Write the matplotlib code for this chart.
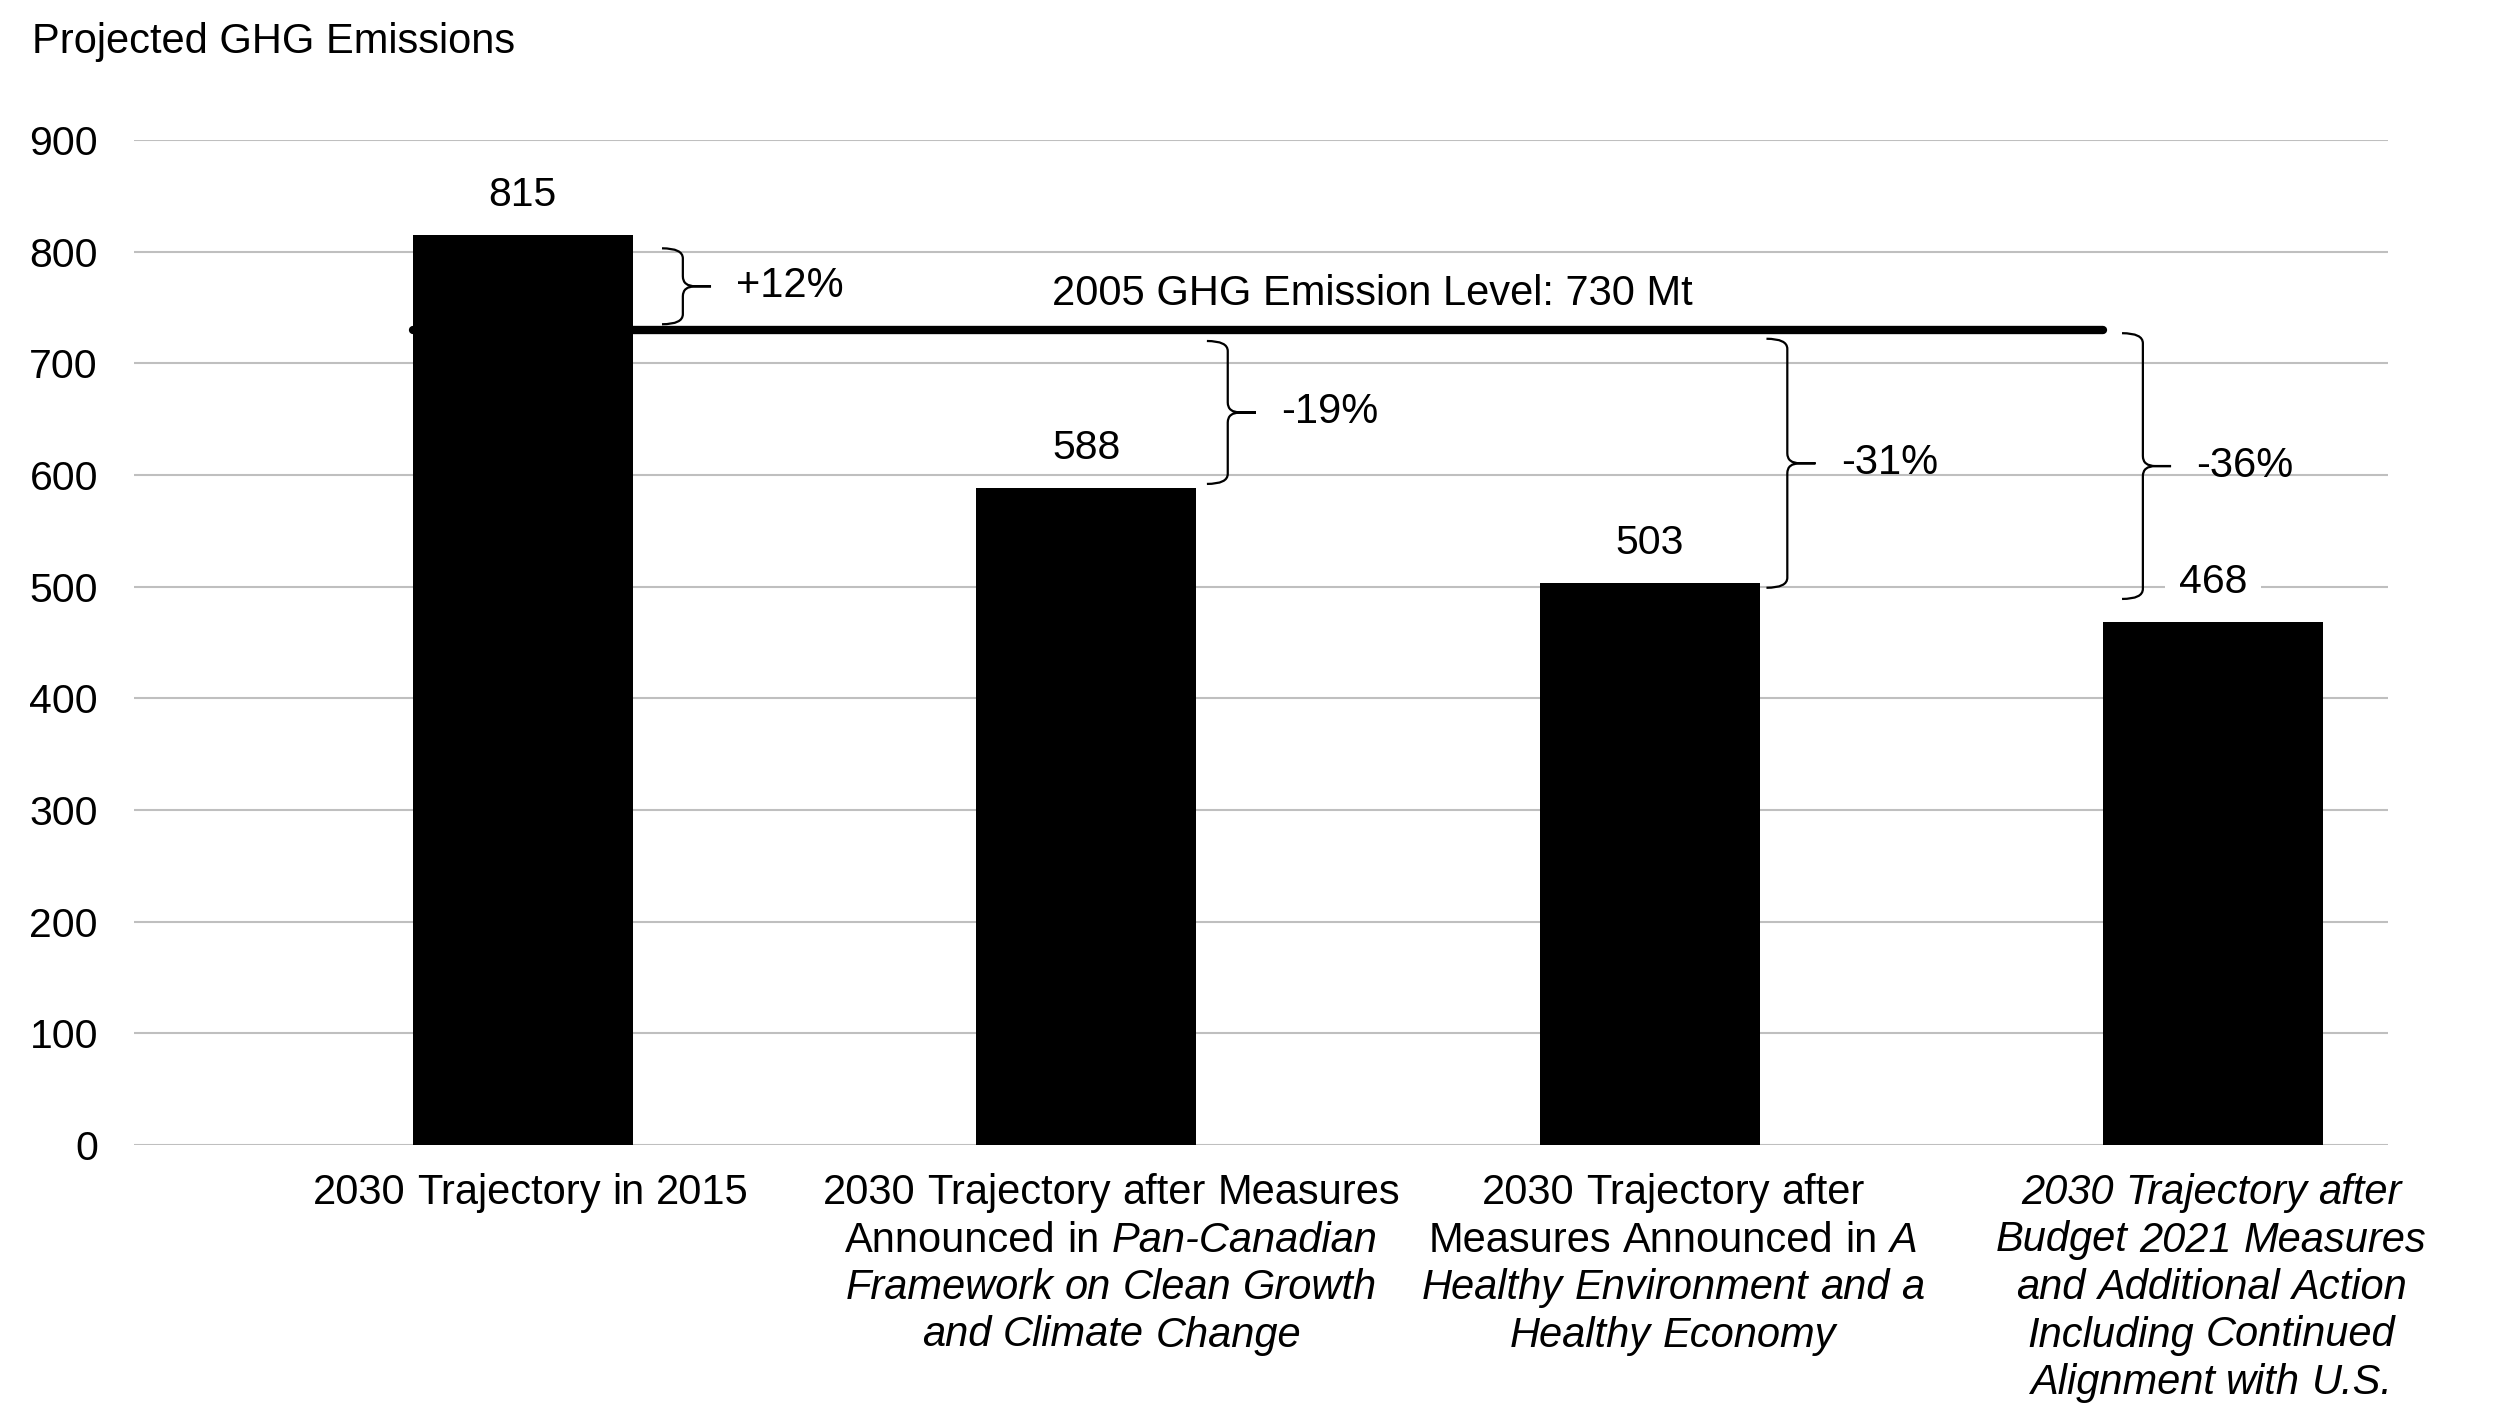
import numpy as np
import matplotlib
matplotlib.use('Agg')
import matplotlib.pyplot as plt
from matplotlib.path import Path
from matplotlib.patches import PathPatch, Rectangle
from matplotlib.transforms import ScaledTranslation, blended_transform_factory

plt.rcParams['font.family'] = ['Liberation Sans', 'DejaVu Sans']

# ---- data
values = [815, 588, 503, 468]
level_2005 = 730
level_text = '2005 GHG Emission Level: 730 Mt'
pct_labels = ['+12%', '-19%', '-31%', '-36%']
brace_spans = [(803, 735), (720, 592), (722, 499), (727, 489)]
yticks = [0, 100, 200, 300, 400, 500, 600, 700, 800, 900]
# each label: list of lines, each line: list of (text, italic)
xlabels = [
    [[('2030 Trajectory in 2015', False)]],
    [[('2030 Trajectory after Measures', False)],
     [('Announced in', False), ('Pan-Canadian', True)],
     [('Framework on Clean Growth', True)],
     [('and Climate Change', True)]],
    [[('2030 Trajectory after', False)],
     [('Measures Announced in', False), ('A', True)],
     [('Healthy Environment and a', True)],
     [('Healthy Economy', True)]],
    [[('2030 Trajectory after', True)],
     [('Budget 2021 Measures', True)],
     [('and Additional Action', True)],
     [('Including Continued', True)],
     [('Alignment with U.S.', True)]],
]

W, H = 2493, 1406
fig = plt.figure(figsize=(W / 100, H / 100), dpi=100)
ax = fig.add_axes([134 / W, 1 - 1145 / H, 2254 / W, 1005 / H])

x = np.arange(len(values))
bw = 0.39
ax.bar(x, values, width=bw, color='black', zorder=3)

# 2005 level line, from first bar's left edge to last bar's left edge
ax.plot([x[0] - bw / 2, x[-1] - bw / 2], [level_2005, level_2005], color='black',
        lw=6, solid_capstyle='round', zorder=2.5)
ax.text(1.507, 762, level_text, fontsize=30, ha='center', va='center')

# value labels (white patch behind so gridlines break around them)
for xi, v in zip(x, values):
    ax.add_patch(Rectangle((xi - 0.085, v + 28), 0.17, 16, fc='white', ec='none', zorder=3.5))
    ax.text(xi, v + 36, str(v), fontsize=29.5, ha='center', va='center', zorder=4)

# braces
def brace(xa, ytop, ybot, w1=0.037, w2=0.087, r=9):
    xv, xt = xa + w1, xa + w2
    ym = (ytop + ybot) / 2
    xm = xv + (xt - xv) * 0.45
    verts, codes = [], []
    for ye, s in [(ytop, 1), (ybot, -1)]:
        verts += [(xt, ym), (xm, ym), (xv, ym), (xv, ym + s * r),
                  (xv, ye - s * r), (xv, ye), (xa, ye)]
        codes += [Path.MOVETO, Path.LINETO, Path.CURVE3, Path.CURVE3,
                  Path.LINETO, Path.CURVE3, Path.CURVE3]
    ax.add_patch(PathPatch(Path(verts, codes), fc='none', ec='black', lw=1.6, zorder=4))
    return ym

brace_x = [0.247, 1.214, 2.207, 2.838]
for bx, (yt, yb), lab in zip(brace_x, brace_spans, pct_labels):
    ym = brace(bx, yt, yb)
    ax.text(bx + 0.132, ym, lab, fontsize=30, ha='left', va='center')

# axes styling
ax.set_xlim(-0.69, 3.31)
ax.set_ylim(0, 900)
ax.set_yticks(yticks)
ax.set_yticklabels([str(t) for t in yticks], fontsize=29.5)
ax.tick_params(axis='y', length=0, pad=26)
ax.set_xticks([])
ax.grid(axis='y', color='#bfbfbf', lw=1.5)
ax.set_axisbelow(True)
for s in ax.spines.values():
    s.set_visible(False)

fig.text(32 / W, 1 - 53 / H, 'Projected GHG Emissions', fontsize=30, ha='left', va='baseline')

# category labels with mixed italic words
fig.canvas.draw()
renderer = fig.canvas.get_renderer()
trans = blended_transform_factory(ax.transData, ax.transAxes)
label_dx = [8, 25, 23, -2]
fs = 30
space = fs * 0.278 * fig.dpi / 72
for i, lines in enumerate(xlabels):
    for k, line in enumerate(lines):
        words = [(w, it) for seg, it in line for w in seg.split()]
        items = [ax.text(x[i], 0, w, transform=trans, fontsize=fs,
                         style='italic' if it else 'normal', ha='left', va='baseline',
                         clip_on=False) for w, it in words]
        widths = [t.get_window_extent(renderer).width for t in items]
        total = sum(widths) + space * (len(widths) - 1)
        x0 = -total / 2 + label_dx[i]
        y0 = -(59 + 47.5 * k)
        for t, wd in zip(items, widths):
            t.set_transform(trans + ScaledTranslation(x0 / fig.dpi, y0 / fig.dpi, fig.dpi_scale_trans))
            x0 += wd + space

fig.savefig('out.png', dpi=100)
